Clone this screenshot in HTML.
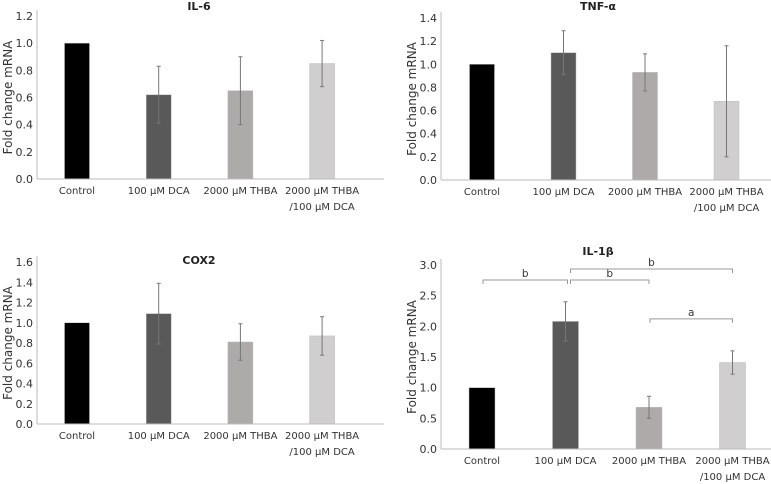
<!DOCTYPE html>
<html><head><meta charset="utf-8"><style>
html,body{margin:0;padding:0;background:#fff;}
svg{display:block;font-family:"DejaVu Sans","Liberation Sans",sans-serif;}
</style></head><body>
<svg id="c" width="771" height="484" viewBox="0 0 771 484"></svg>
<script>
const categories = ["Control","100 µM DCA","2000 µM THBA","2000 µM THBA\n/100 µM DCA"];
const barColors = ["#000000","#595959","#aeaaaa","#d0cece"];
const il6Values = [1.0, 0.62, 0.65, 0.85];
const il6Errors = [0.0, 0.21, 0.25, 0.17];
const tnfValues = [1.0, 1.10, 0.93, 0.68];
const tnfErrors = [0.0, 0.19, 0.16, 0.48];
const cox2Values = [1.0, 1.09, 0.81, 0.87];
const cox2Errors = [0.0, 0.30, 0.18, 0.19];
const il1bValues = [1.0, 2.08, 0.68, 1.41];
const il1bErrors = [0.0, 0.32, 0.18, 0.19];
const il6Ticks = [0,0.2,0.4,0.6,0.8,1.0,1.2];
const tnfTicks = [0,0.2,0.4,0.6,0.8,1.0,1.2,1.4];
const cox2Ticks = [0,0.2,0.4,0.6,0.8,1.0,1.2,1.4,1.6];
const il1bTicks = [0,0.5,1.0,1.5,2.0,2.5,3.0];
const il1bSig = [[0,1,"b"],[1,2,"b"],[1,3,"b"],[2,3,"a"]];

const svg = document.getElementById('c');
const NS = "http://www.w3.org/2000/svg";
function mk(tag, attrs, parent){const e=document.createElementNS(NS,tag);for(const k in attrs)e.setAttribute(k,attrs[k]);(parent||svg).appendChild(e);return e;}

function panel(p){
  const g = mk('g',{});
  
  
  const maxV = p.ticks[p.ticks.length-1];
  const y = v => p.y0 - (v/maxV)*(p.y0-p.yTop);
  const x = i => p.ax + p.first + i*p.gap;
  const t = mk('text',{x:p.titleX,y:p.titleY,'text-anchor':'middle','font-size':11,'font-weight':'bold',fill:'#222'},g);
  t.textContent = p.title;
  
  
  const yl = mk('text',{transform:`translate(${p.ax-25},${(p.y0+p.yTop)/2}) rotate(-90)`,'text-anchor':'middle','font-size':12,fill:'#333'},g);
  yl.textContent = 'Fold change mRNA';
  
  
  p.ticks.forEach(v=>{
    const tl = mk('text',{x:p.ax-4,y:y(v)+4,'text-anchor':'end','font-size':11,fill:'#333'},g);
    tl.textContent = v.toFixed(1);
    
    
  });
  const ya = mk('line',{x1:p.ax,y1:p.yTop-6,x2:p.ax,y2:p.y0,stroke:'#bbb','stroke-width':1},g);
  
  
  p.values.forEach((v,i)=>{
    const cx = x(i);
    const b = mk('rect',{x:cx-p.bw/2,y:y(v),width:p.bw,height:p.y0-y(v),fill:barColors[i],stroke:'#bbb','stroke-width':0.5},g);
    
    
    const e = p.errors[i];
    if(e>0){
      const eg = mk('g',{stroke:'#777','stroke-width':1},g);
      
      
      mk('line',{x1:cx,y1:y(v+e),x2:cx,y2:y(v-e)},eg);
      mk('line',{x1:cx-2,y1:y(v+e),x2:cx+2,y2:y(v+e)},eg);
      mk('line',{x1:cx-2,y1:y(v-e),x2:cx+2,y2:y(v-e)},eg);
    }
    const lines = categories[i].split('\n');
    lines.forEach((ln,k)=>{
      const ct = mk('text',{x:cx,y:p.y0+15+k*16,'text-anchor':'middle','font-size':10,fill:'#333'},g);
      ct.textContent = ln;
      
      
    });
  });
  const xa = mk('line',{x1:p.ax,y1:p.y0,x2:p.xEnd,y2:p.y0,stroke:'#bbb','stroke-width':1},g);
  
  
  if(p.sig){
    p.sig.forEach(s=>{
      const x1 = x(s[0])+(s[0]===1?5:1), x2 = x(s[1])+(s[0]===0?2:0);
      const top = Math.max(...p.values.slice(s[0],s[1]+1).map((v,k)=>v+p.errors[s[0]+k]));
      let by;
      if(s[2]==='a') by = y(top)-32; else if(s[1]===3) by = y(3.0)+4; else by = y(3.0)+15;
      const sg = mk('g',{},g);
      
      
      mk('path',{d:`M${x1},${by+4}V${by}H${x2}V${by+4}`,fill:'none',stroke:'#999','stroke-width':1},sg);
      const st = mk('text',{x:(x1+x2)/2,y:by-3,'text-anchor':'middle','font-size':10.5,fill:'#333'},sg);
      st.textContent = s[2];
    });
  }
}
panel({name:'il6',title:'IL-6',titleX:199,titleY:10,ax:37,y0:179,yTop:16,ticks:il6Ticks,values:il6Values,errors:il6Errors,first:40,gap:81.7,bw:25,xEnd:384});
panel({name:'tnf',title:'TNF-α',titleX:598,titleY:10,ax:441,y0:180,yTop:18,ticks:tnfTicks,values:tnfValues,errors:tnfErrors,first:41,gap:81.5,bw:25,xEnd:771});
panel({name:'cox2',title:'COX2',titleX:199,titleY:264,ax:37,y0:424,yTop:262,ticks:cox2Ticks,values:cox2Values,errors:cox2Errors,first:40,gap:81.7,bw:25,xEnd:384});
panel({name:'il1b',title:'IL-1β',titleX:598,titleY:255,ax:441,y0:449,yTop:265,ticks:il1bTicks,values:il1bValues,errors:il1bErrors,first:41,gap:83.5,bw:26,xEnd:771,sig:il1bSig});
</script>
</body></html>
